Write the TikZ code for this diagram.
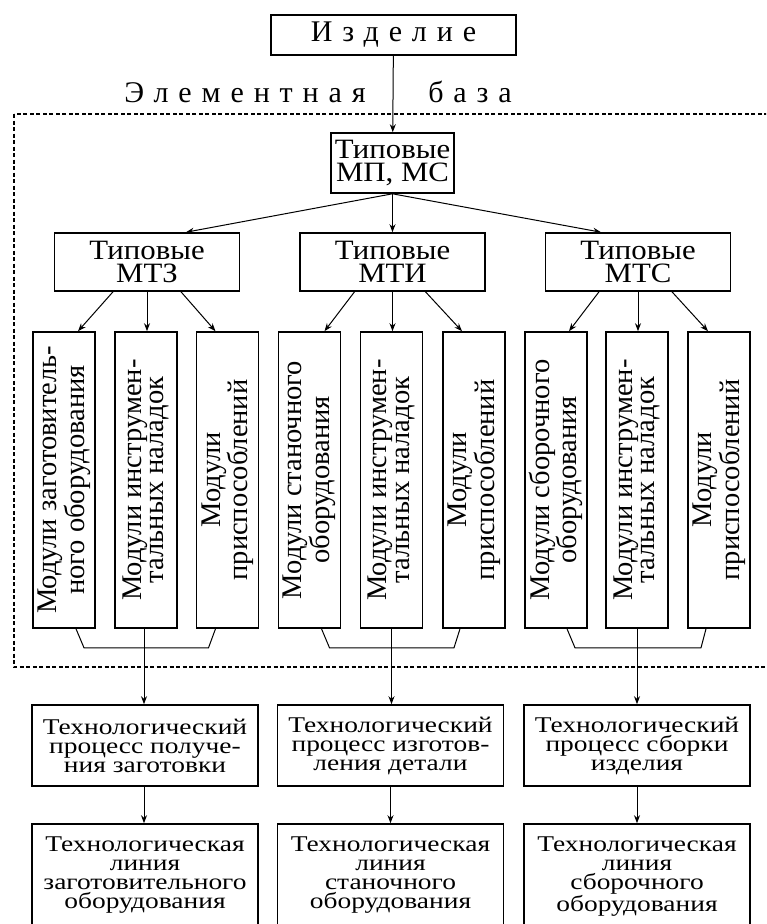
\documentclass[tikz,border=0pt]{standalone}
\usepackage{fontspec}
\setmainfont{Liberation Serif}
\newfontfamily\procfont[FakeStretch=1.22]{Liberation Serif}
\newfontfamily\typfont[FakeStretch=1.1]{Liberation Serif}
\newfontfamily\spfont[LetterSpace=33]{Liberation Serif}
\usetikzlibrary{arrows.meta,calc}
\begin{document}
\begin{tikzpicture}[x=1pt,y=-1pt,
  box/.style={draw,line width=1.6pt,rectangle,inner sep=0pt},
  arr/.style={draw,line width=1pt,-{Stealth[length=8pt,width=6pt]}},
  brk/.style={draw,line width=1pt},
  frame/.style={draw,line width=1.3pt,dash pattern=on 4pt off 2.5pt},
  spaced/.style={font=\spfont\fontsize{30}{30}\selectfont,inner sep=0pt},
  typ/.style={box,align=center,font=\typfont\fontsize{28}{22.5}\selectfont,minimum width=185pt,minimum height=58pt},
  modbox/.style={box,minimum width=62pt,minimum height=296pt},
  modtext/.style={rotate=90,align=center,inner sep=0pt,font=\fontsize{28.5}{22.5}\selectfont},
  proc/.style={align=center,inner sep=0pt,font=\procfont\fontsize{22.5}{19}\selectfont},
  procbox/.style={box,proc,minimum width=226pt,minimum height=81pt},
  linebox/.style={box,minimum width=226pt,minimum height=140pt}
]
\useasboundingbox (0,0) rectangle (766,924);
\clip (0,0) rectangle (766,924);

% dashed frame
\draw[frame] (14,114) rectangle (800,667);

% top
\node[box,spaced,minimum width=245pt,minimum height=40pt] (izd) at (393.5,35) {Изделие};
\node[spaced,anchor=base] (el) at (245,102) {Элементная};
\node[spaced,anchor=base] (baza) at (470,102) {база};

\node[typ,minimum width=123pt,minimum height=60pt] (mp) at (392.5,163) {Типовые\\МП, МС};

\node[typ] (T1) at (147,262) {Типовые\\МТЗ};
\node[typ] (T2) at (392.5,262) {Типовые\\МТИ};
\node[typ] (T3) at (638,262) {Типовые\\МТС};

% modules
\foreach \n/\x in {1/64,2/146,3/227.5,4/309.5,5/391.5,6/474,7/556,8/637,9/719}{
  \node[modbox] (M\n) at (\x,480) {};
}
\node[modtext] (M1t) at (M1) {Модули заготовитель-\\ного оборудования};
\node[modtext] (M2t) at (M2) {Модули инструмен-\\тальных наладок};
\node[modtext] (M3t) at (M3) {Модули\\приспособлений};
\node[modtext] (M4t) at (M4) {Модули станочного\\оборудования};
\node[modtext] (M5t) at (M5) {Модули инструмен-\\тальных наладок};
\node[modtext] (M6t) at (M6) {Модули\\приспособлений};
\node[modtext] (M7t) at (M7) {Модули сборочного\\оборудования};
\node[modtext] (M8t) at (M8) {Модули инструмен-\\тальных наладок};
\node[modtext] (M9t) at (M9) {Модули\\приспособлений};

% process boxes
\node[procbox] (P1) at (145,745.5) {Технологический\\процесс получе-\\ния заготовки};
\node[procbox] (P2) at (390.5,745.5) {Технологический\\процесс изготов-\\ления детали};
\node[procbox] (P3) at (637,745.5) {Технологический\\процесс сборки\\изделия};

% line boxes (cut by the lower edge)
\node[linebox] (L1) at (145,894) {};
\node[linebox] (L2) at (390.5,894) {};
\node[linebox] (L3) at (637,894) {};
\node[proc,anchor=north] (L1t) at ([yshift=-13pt]L1.north) {Технологическая\\линия\\заготовительного\\оборудования};
\node[proc,anchor=north] (L2t) at ([yshift=-13pt]L2.north) {Технологическая\\линия\\станочного\\оборудования};
\node[proc,anchor=north] (L3t) at ([yshift=-13pt]L3.north) {Технологическая\\линия\\сборочного\\оборудования};

% connectors
\draw[arr] (izd) -- (mp);
\draw[arr] (mp.south) -- ([xshift=39pt]T1.north);
\draw[arr] (mp.south) -- (T2.north);
\draw[arr] (mp.south) -- ([xshift=-37pt]T3.north);

\draw[arr] ([xshift=-34pt]T1.south) -- ([xshift=14pt]M1.north);
\draw[arr] (T1.south) -- (T1.south |- M2.north);
\draw[arr] ([xshift=34pt]T1.south) -- ([xshift=-12pt]M3.north);
\draw[arr] ([xshift=-38pt]T2.south) -- ([xshift=15pt]M4.north);
\draw[arr] (T2.south) -- (T2.south |- M5.north);
\draw[arr] ([xshift=33pt]T2.south) -- ([xshift=-12pt]M6.north);
\draw[arr] ([xshift=-39pt]T3.south) -- ([xshift=13pt]M7.north);
\draw[arr] (T3.south) -- (T3.south |- M8.north);
\draw[arr] ([xshift=34pt]T3.south) -- ([xshift=-11pt]M9.north);

\draw[brk] ([xshift=12pt]M1.south) -- ++(8,19) -- ([xshift=-19pt,yshift=-19pt]M3.south) -- ([xshift=-12pt]M3.south);
\draw[brk] ([xshift=12pt]M4.south) -- ++(8,19) -- ([xshift=-20pt,yshift=-19pt]M6.south) -- ([xshift=-14pt]M6.south);
\draw[brk] ([xshift=11pt]M7.south) -- ++(8,19) -- ([xshift=-18pt,yshift=-19pt]M9.south) -- ([xshift=-13pt]M9.south);

\draw[arr] ([xshift=-2pt]M2.south) -- ([xshift=-2pt]M2.south |- P1.north);
\draw[arr] (M5.south) -- (M5.south |- P2.north);
\draw[arr] (M8.south) -- (M8.south |- P3.north);

\draw[arr] ([xshift=-1pt]P1.south) -- ([xshift=-1pt]P1.south |- L1.north);
\draw[arr] (P2.south) -- (P2.south |- L2.north);
\draw[arr] (P3.south) -- (P3.south |- L3.north);
\end{tikzpicture}
\end{document}
